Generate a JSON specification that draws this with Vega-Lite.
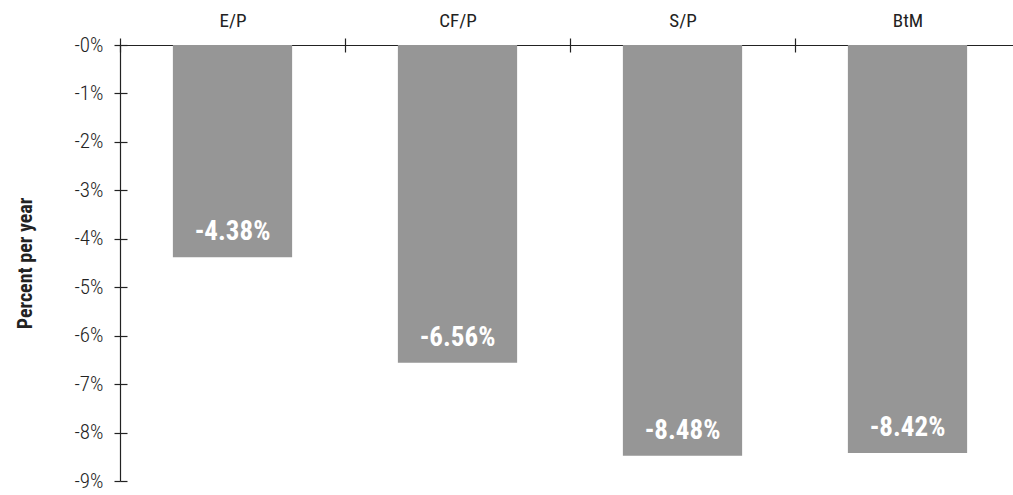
{
  "$schema": "https://vega.github.io/schema/vega-lite/v6.json",
  "width": 893,
  "height": 436,
  "autosize": {"type": "none"},
  "padding": {"left": 120, "top": 45, "right": 0, "bottom": 14},
  "background": "white",
  "config": {
    "view": {"stroke": null},
    "font": "Roboto Condensed, Liberation Sans Narrow, DejaVu Sans Condensed, sans-serif",
    "axis": {"domainColor": "#222222", "tickColor": "#222222", "labelColor": "#222222", "titleColor": "#222222", "grid": false, "domainWidth": 1.2, "tickWidth": 1.2}
  },
  "data": {
    "values": [
      {"factor": "E/P", "ret": -4.38},
      {"factor": "CF/P", "ret": -6.56},
      {"factor": "S/P", "ret": -8.48},
      {"factor": "BtM", "ret": -8.42}
    ]
  },
  "layer": [
    {
      "mark": {"type": "bar", "color": "#969696", "width": {"band": 0.53}},
      "encoding": {
        "x": {
          "field": "factor", "type": "nominal", "sort": null,
          "scale": {"range": [0, 900], "paddingInner": 0, "paddingOuter": 0},
          "axis": {"orient": "top", "title": null, "labelAngle": 0, "tickBand": "extent", "tickSize": 7, "labelPadding": 8, "labelFontSize": 19}
        },
        "y": {
          "field": "ret", "type": "quantitative",
          "scale": {"domain": [-9, 0], "nice": false, "zero": true},
          "axis": {
            "orient": "left", "values": [0, -1, -2, -3, -4, -5, -6, -7, -8, -9],
            "labelExpr": "'-' + abs(datum.value) + '%'",
            "tickSize": 6, "labelPadding": 11, "labelFontSize": 21, "labelFontWeight": 300,
            "title": "Percent per year", "titleFontSize": 20, "titleFontWeight": "bold", "titlePadding": 38
          }
        }
      }
    },
    {
      "mark": {
        "type": "text", "color": "white", "fontSize": 27, "fontWeight": "bold", "baseline": "middle", "dy": -25,
        "text": {"expr": "'-' + format(abs(datum.ret), '.2f') + '%'"}
      },
      "encoding": {
        "x": {
          "field": "factor", "type": "nominal", "sort": null,
          "axis": {"orient": "top", "title": null, "labels": false, "domain": false, "tickBand": "extent", "tickSize": -7}
        },
        "y": {
          "field": "ret", "type": "quantitative",
          "axis": {"orient": "left", "values": [0, -1, -2, -3, -4, -5, -6, -7, -8, -9], "labels": false, "domain": false, "title": null, "tickSize": -7}
        }
      }
    }
  ],
  "resolve": {"axis": {"x": "independent", "y": "independent"}}
}
